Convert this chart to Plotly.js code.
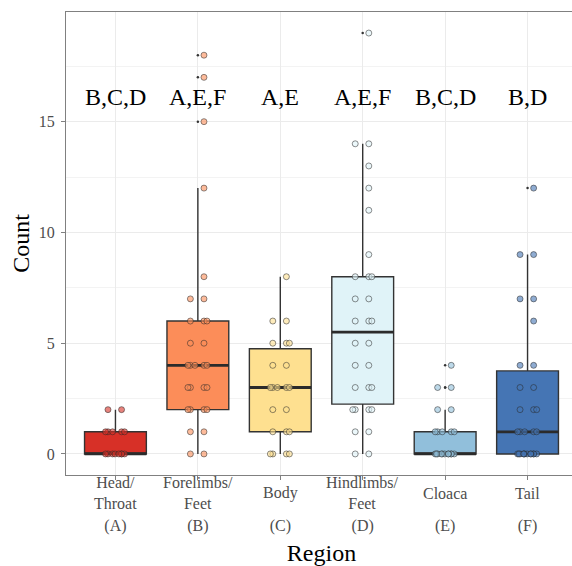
<!DOCTYPE html>
<html>
<head>
<meta charset="utf-8">
<script src="https://cdn.plot.ly/plotly-3.0.1.min.js"></script>
<style>
html, body { margin: 0; padding: 0; overflow: hidden; background: #fff; }
#chart { width: 578px; height: 566px; }
</style>
</head>
<body>
<div id="chart"></div>
<script>
// ---- data ----
const regionNames = ['Head/<br>Throat', 'Forelimbs/<br>Feet', 'Body', 'Hindlimbs/<br>Feet', 'Cloaca', 'Tail'];
const regionCodes = ['(A)', '(B)', '(C)', '(D)', '(E)', '(F)'];
const sigLetters = ['B,C,D', 'A,E,F', 'A,E', 'A,E,F', 'B,C,D', 'B,D'];

const headThroat = [0,0,0,0,0,0,0,0,1,1,1,1,1,2,2];
const forelimbs  = [0,0,1,1,2,2,2,2,3,3,3,3,4,4,4,4,4,5,5,6,6,6,7,7,8,12,15,17,18];
const body       = [0,0,0,0,1,1,1,2,2,3,3,3,3,3,4,4,5,5,5,6,6,8];
const hindlimbs  = [0,0,1,1,2,2,2,2,3,3,3,4,4,5,5,6,6,6,7,7,8,8,8,9,11,12,13,14,14,19];
const cloaca     = [0,0,0,0,0,0,0,0,0,0,0,1,1,1,1,1,2,2,3,3,4];
const tail       = [0,0,0,0,0,0,0,0,0,0,0,0,1,1,1,1,1,2,2,2,3,3,4,4,6,7,7,9,9,12];

const q1Vals       = [0, 2, 1, 2.25, 0, 0];
const medianVals   = [0, 4, 3, 5.5, 0, 1];
const q3Vals       = [1, 6, 4.75, 8, 1, 3.75];
const lowerWhisker = [0, 0, 0, 0, 0, 0];
const upperWhisker = [2, 12, 8, 14, 2, 9];

// ---- styles ----
const groups = [headThroat, forelimbs, body, hindlimbs, cloaca, tail];
const fills = ['#d73027', '#fc8d59', '#fee090', '#e0f3f8', '#91bfdb', '#4575b4'];
const serif = 'Liberation Serif, Times New Roman, DejaVu Serif, serif';

function rgba(hex, a) {
  const n = parseInt(hex.slice(1), 16);
  return 'rgba(' + ((n >> 16) & 255) + ',' + ((n >> 8) & 255) + ',' + (n & 255) + ',' + a + ')';
}

const traces = [];
// boxes
regionCodes.forEach((c, i) => {
  traces.push({
    type: 'box', x: [c], q1: [q1Vals[i]], median: [medianVals[i]], q3: [q3Vals[i]],
    lowerfence: [lowerWhisker[i]], upperfence: [upperWhisker[i]],
    width: 0.75, fillcolor: fills[i], line: { color: '#333333', width: 1.4 },
    whiskerwidth: 0, hoverinfo: 'skip', showlegend: false
  });
});
// thick median lines
regionCodes.forEach((c, i) => {
  const m = medianVals[i];
  traces.push({
    type: 'box', x: [c], q1: [m], median: [m], q3: [m], lowerfence: [m], upperfence: [m],
    width: 0.75, fillcolor: 'rgba(0,0,0,0)', line: { color: '#2b2b2b', width: 2.8 },
    whiskerwidth: 0, hoverinfo: 'skip', showlegend: false
  });
});
// outlier dots (small, at centre)
const outX = [], outY = [];
groups.forEach((g, i) => g.forEach(v => {
  if (v > upperWhisker[i] || v < lowerWhisker[i]) { outX.push(regionCodes[i]); outY.push(v); }
}));
traces.push({
  type: 'scatter', mode: 'markers', x: outX, y: outY,
  marker: { size: 2.5, color: '#333333' }, hoverinfo: 'skip', showlegend: false
});
// jittered raw points: one trace per region and count value, so the library's jitter is uniform
groups.forEach((g, i) => {
  const uniq = Array.from(new Set(g));
  uniq.forEach(u => {
    const ys = g.filter(v => v === u);
    traces.push({
      type: 'box', x: ys.map(() => regionCodes[i]), y: ys,
      boxpoints: 'all', jitter: 0.38, pointpos: 0, width: 0.75,
      fillcolor: 'rgba(0,0,0,0)', line: { color: 'rgba(0,0,0,0)', width: 0 },
      marker: { size: 6, color: rgba(fills[i], 0.6), line: { color: 'rgba(40,40,40,0.75)', width: 0.7 } },
      hoverinfo: 'skip', showlegend: false
    });
  });
});

const annotations = [];
regionNames.forEach((t, i) => {
  annotations.push({
    xref: 'x', yref: 'paper', x: i, y: -0.039, yanchor: 'middle', xanchor: 'center',
    text: t, showarrow: false, font: { family: serif, size: 16, color: '#4d4d4d' }
  });
});
sigLetters.forEach((t, i) => {
  annotations.push({
    xref: 'x', yref: 'y', x: i, y: 16.1, yanchor: 'middle', xanchor: 'center',
    text: t, showarrow: false, font: { family: serif, size: 24, color: '#000000' }
  });
});

const layout = {
  width: 578, height: 566,
  margin: { l: 66, r: 1, t: 12, b: 91 },
  paper_bgcolor: '#ffffff', plot_bgcolor: '#ffffff',
  boxmode: 'overlay', showlegend: false,
  font: { family: serif },
  xaxis: {
    type: 'category', range: [-0.6, 5.6],
    showgrid: true, gridcolor: '#ebebeb', gridwidth: 1,
    showline: true, mirror: true, linecolor: '#808080', linewidth: 1,
    ticks: 'outside', ticklen: 4, tickcolor: '#808080',
    tickfont: { family: serif, size: 16, color: '#4d4d4d' },
    ticklabelstandoff: 32, zeroline: false,
    title: { text: 'Region', font: { family: serif, size: 24, color: '#000000' }, standoff: 20 }
  },
  yaxis: {
    range: [-0.95, 19.95], tickmode: 'linear', tick0: 0, dtick: 5,
    showgrid: true, gridcolor: '#ebebeb', gridwidth: 1,
    minor: { tickmode: 'linear', tick0: 0, dtick: 2.5, showgrid: true, gridcolor: '#f3f3f3', gridwidth: 1, ticks: '' },
    showline: true, mirror: true, linecolor: '#808080', linewidth: 1,
    ticks: 'outside', ticklen: 4, tickcolor: '#808080', ticklabelstandoff: 3,
    tickfont: { family: serif, size: 16, color: '#4d4d4d' }, zeroline: false,
    title: { text: 'Count', font: { family: serif, size: 24, color: '#000000' }, standoff: 2 }
  },
  annotations: annotations
};

Plotly.newPlot('chart', traces, layout, { displayModeBar: false, staticPlot: true });
</script>
</body>
</html>
